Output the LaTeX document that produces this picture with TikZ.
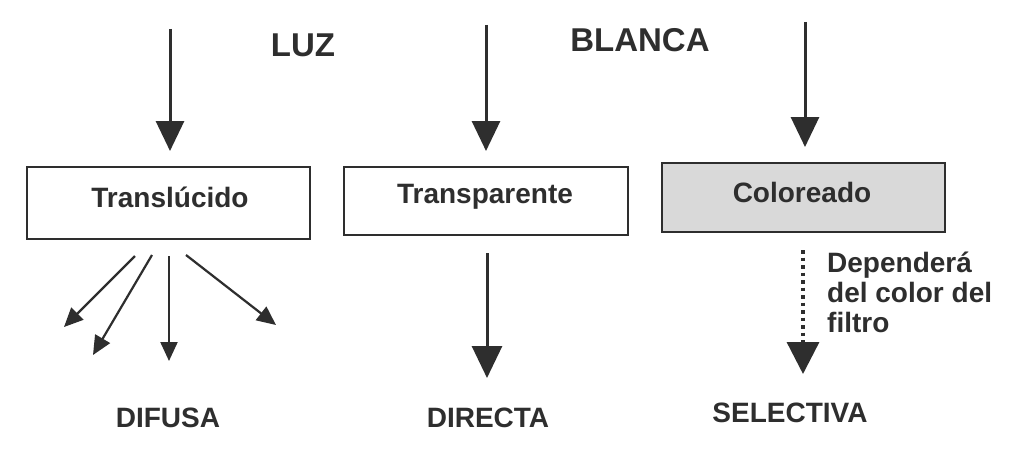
\documentclass[tikz,border=0pt]{standalone}
\usepackage{fontspec}
\setmainfont{Liberation Sans}
\usetikzlibrary{arrows.meta}
\definecolor{ink}{HTML}{2E2E2E}
\definecolor{shade}{HTML}{D9D9D9}
\tikzset{
  boxnode/.style={draw=ink, line width=2.6pt, inner sep=0pt},
  txt/.style={font=\fontsize{28}{30}\selectfont\bfseries, text=ink, anchor=base, inner sep=0pt},
  bigtxt/.style={font=\fontsize{33}{36}\selectfont\bfseries, text=ink, anchor=base, inner sep=0pt},
  bigarrow/.style={draw=ink, line width=3pt, -{Triangle[length=30pt,width=28pt]}},
  smallarrow/.style={draw=ink, line width=2.2pt, -{Triangle[length=19pt,width=17pt]}},
  dotarrow/.style={draw=ink, line width=3.4pt, dash pattern=on 3.5pt off 4pt, -{Triangle[length=32pt,width=32pt,sep=0pt]}},
}
\begin{document}
\begin{tikzpicture}[x=1pt,y=-1pt]
\useasboundingbox[fill=white] (0,0) rectangle (1017,452);

% boxes
\node[boxnode, minimum width=283pt, minimum height=72pt] (b1) at (168.5,203) {};
\node[boxnode, minimum width=284pt, minimum height=68pt] (b2) at (486,201) {};
\node[boxnode, fill=shade, minimum width=283pt, minimum height=69pt] (b3) at (803.5,197.5) {};

% box texts
\node[txt] (t1) at (170,207) {Translúcido};
\node[txt] (t2) at (485,203) {Transparente};
\node[txt] (t3) at (802,202) {Coloreado};

% title
\node[bigtxt] (luz) at (303,57) {LUZ};
\node[bigtxt] (blanca) at (640,52) {BLANCA};

% bottom labels
\node[txt] (difusa) at (168,427) {DIFUSA};
\node[txt] (directa) at (488,427) {DIRECTA};
\node[txt] (selectiva) at (790,422) {SELECTIVA};
\node[txt, anchor=base west] (dep1) at (827,272) {Dependerá};
\node[txt, anchor=base west] (dep2) at (827,302) {del color del};
\node[txt, anchor=base west] (dep3) at (827,332) {filtro};

% incoming light
\coordinate (s1) at (170,29);  \coordinate (e1) at (170,151);
\coordinate (s2) at (486,25);  \coordinate (e2) at (486,151);
\coordinate (s3) at (805,22);  \coordinate (e3) at (805,147);
\draw[bigarrow] (s1) -- (e1);
\draw[bigarrow] (s2) -- (e2);
\draw[bigarrow] (s3) -- (e3);

% diffuse
\coordinate (da1) at (135,256); \coordinate (de1) at (64,327);
\coordinate (da2) at (152,255); \coordinate (de2) at (93,355);
\coordinate (da3) at (169,256); \coordinate (de3) at (169,361);
\coordinate (da4) at (186,255); \coordinate (de4) at (276,325);
\draw[smallarrow] (da1) -- (de1);
\draw[smallarrow] (da2) -- (de2);
\draw[smallarrow] (da3) -- (de3);
\draw[smallarrow] (da4) -- (de4);

% direct
\coordinate (ds) at (487,253); \coordinate (dend) at (487,378);
\draw[bigarrow, -{Triangle[length=32pt,width=30pt]}] (ds) -- (dend);

% selective
\coordinate (ss) at (803,250); \coordinate (send) at (803,374);
\draw[dotarrow] (ss) -- (send);
\end{tikzpicture}
\end{document}
